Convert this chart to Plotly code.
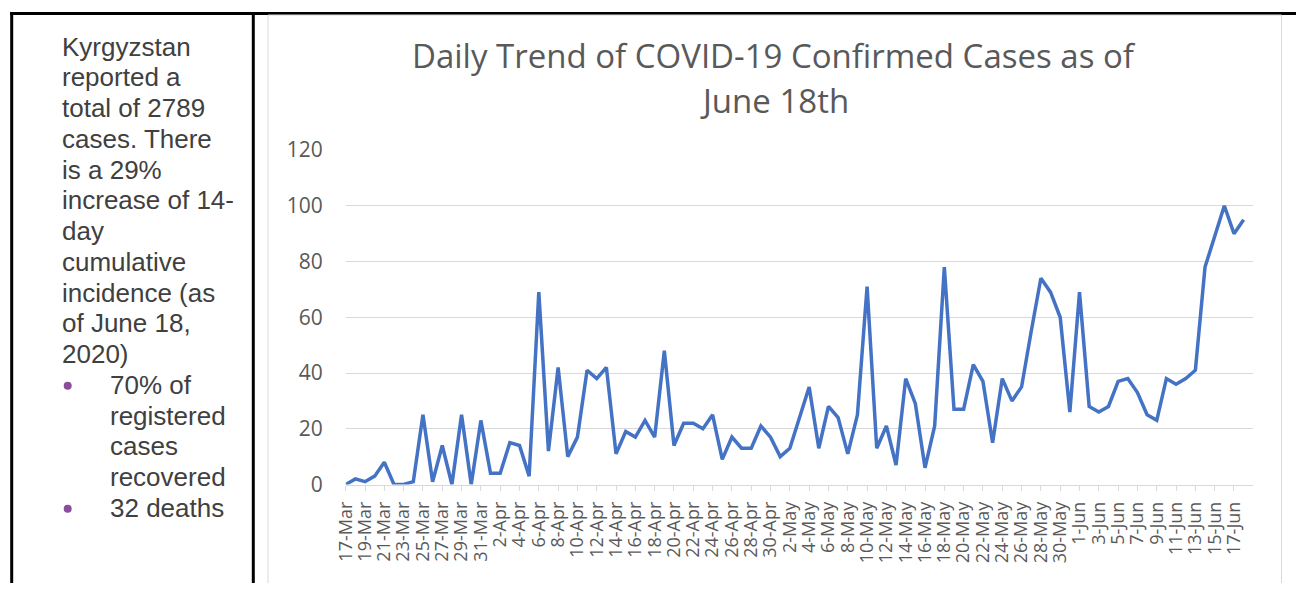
import datetime as dt
import plotly.graph_objects as go

# The page body keeps its default 8px margin, so the figure is drawn 8px
# smaller on each side and every reference pixel is shifted by that margin.
PAGE_W, PAGE_H, BODY_MARGIN = 1304, 591, 8
W, H = PAGE_W - 2 * BODY_MARGIN, PAGE_H - 2 * BODY_MARGIN

# ---- data ----
start = dt.date(2020, 3, 17)
dates = [(start + dt.timedelta(days=i)) for i in range(94)]
categories = [f"{d.day}-{d.strftime('%b')}" for d in dates]
cases = [0, 2, 1, 3, 8, 0, 0, 1, 25, 1,
         14, 0, 25, 0, 23, 4, 4, 15, 14, 3,
         69, 12, 42, 10, 17, 41, 38, 42, 11, 19,
         17, 23, 17, 48, 14, 22, 22, 20, 25, 9,
         17, 13, 13, 21, 17, 10, 13, 24, 35, 13,
         28, 24, 11, 25, 71, 13, 21, 7, 38, 29,
         6, 21, 78, 27, 27, 43, 37, 15, 38, 30,
         35, 55, 74, 69, 60, 26, 69, 28, 26, 28,
         37, 38, 33, 25, 23, 38, 36, 38, 41, 78,
         89, 100, 90, 95]
tick_labels = categories[::2]
y_ticks = [0, 20, 40, 60, 80, 100, 120]

title_lines = ["Daily Trend of COVID-19 Confirmed Cases as of", "June 18th"]
body_lines = ["Kyrgyzstan", "reported a", "total of 2789", "cases. There",
              "is a 29%", "increase of 14-", "day", "cumulative",
              "incidence (as", "of June 18,", "2020)"]
bullet_lines = [["70% of", "registered", "cases", "recovered"], ["32 deaths"]]


def px(x):
    return (x - BODY_MARGIN) / W


def py(y):
    return 1 - (y - BODY_MARGIN) / H


fig = go.Figure()
fig.add_trace(go.Scatter(
    x=categories, y=cases, mode="lines",
    line=dict(color="#4472C4", width=3.5), hoverinfo="x+y", showlegend=False,
))

annotations = []
# chart title
for txt, yc in zip(title_lines, [55, 100]):
    annotations.append(dict(
        x=px(774), y=py(yc), xref="paper", yref="paper", text=txt,
        showarrow=False, xanchor="center", yanchor="middle",
        font=dict(family="Open Sans", size=33, color="#595959"),
    ))

# left cell text (one line per annotation, even line pitch)
text_font = dict(family="Liberation Sans", size=26, color="#404040")
LINE0, PITCH = 46.5, 30.75
row = 0
for txt in body_lines:
    annotations.append(dict(
        x=px(60), y=py(LINE0 + PITCH * row), xref="paper", yref="paper", text=txt,
        showarrow=False, xanchor="left", yanchor="middle", font=text_font,
    ))
    row += 1

shapes = []
for lines in bullet_lines:
    yb = LINE0 + PITCH * row
    shapes.append(dict(type="circle", xref="paper", yref="paper",
                       x0=px(63.7), x1=px(71.7), y0=py(yb - 3), y1=py(yb + 5),
                       line=dict(width=0), fillcolor="#8B4D9A"))
    for txt in lines:
        annotations.append(dict(
            x=px(108), y=py(LINE0 + PITCH * row), xref="paper", yref="paper", text=txt,
            showarrow=False, xanchor="left", yanchor="middle", font=text_font,
        ))
        row += 1

# table borders
for (x0, y0, x1, y1) in [(10, 13.5, PAGE_W + 5, 13.5),
                         (11.7, 12, 11.7, PAGE_H + 5),
                         (253.3, 12, 253.3, PAGE_H + 5)]:
    shapes.append(dict(type="line", xref="paper", yref="paper",
                       x0=px(x0), y0=py(y0), x1=px(x1), y1=py(y1),
                       line=dict(color="#000000", width=3)))
# chart area border
shapes.append(dict(type="rect", xref="paper", yref="paper",
                   x0=px(268), y0=py(585.5), x1=px(1281.5), y1=py(15),
                   line=dict(color="#D9D9D9", width=1), fillcolor="rgba(0,0,0,0)"))

fig.update_layout(
    width=W, height=H, autosize=False,
    margin=dict(l=0, r=0, t=0, b=0, pad=0, autoexpand=False),
    paper_bgcolor="white", plot_bgcolor="white",
    annotations=annotations, shapes=shapes,
    xaxis=dict(
        domain=[px(345.7), px(1253.3)], automargin=False,
        type="category", range=[0, 94],
        tickmode="array", tickvals=tick_labels, ticktext=tick_labels,
        tickangle=-90, ticks="outside", ticklen=5, tickcolor="#D9D9D9",
        showline=True, linecolor="#D9D9D9", linewidth=1,
        showgrid=False, zeroline=False, ticklabelstandoff=4,
        tickfont=dict(family="Open Sans", size=18, color="#595959"),
    ),
    yaxis=dict(
        domain=[py(484.5), py(150)], automargin=False,
        range=[0, 120], tickvals=y_ticks,
        showgrid=True, gridcolor="#D9D9D9", gridwidth=1,
        zeroline=False, showline=False, ticks="",
        ticklabelstandoff=22,
        tickfont=dict(family="Open Sans", size=21, color="#595959"),
    ),
)

fig.write_html("out.html", config={"displayModeBar": False})
